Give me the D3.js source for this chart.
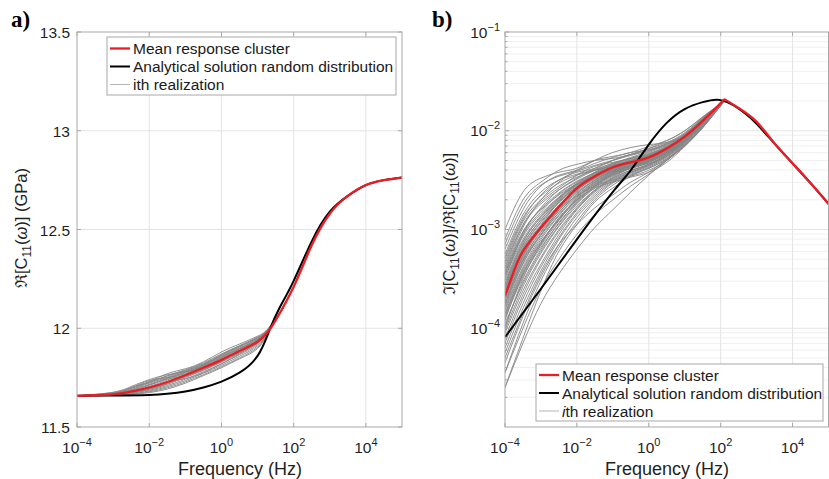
<!DOCTYPE html>
<html lang="en">
<head>
<meta charset="UTF-8">
<title>C11 frequency response - realizations</title>
<script src="https://d3js.org/d3.v7.min.js"></script>
<style>
  body { margin: 0; background: #fff; }
  svg { display: block; font-family: "Liberation Sans", Arial, Helvetica, sans-serif; }
  .grid { stroke: #e4e4e4; stroke-width: 1; }
  .minor { stroke: #f0f0f0; stroke-width: 1; }
  .frame { fill: none; stroke: #a8a8a8; stroke-width: 1; }
  .tick { stroke: #a8a8a8; stroke-width: 1; }
  .tick-label { font-size: 15.5px; fill: #1f1f1f; }
  .axis-title { font-size: 18px; fill: #1f1f1f; }
  .y-title { font-size: 16.5px; fill: #1f1f1f; }
  .gray { fill: none; stroke: #868686; stroke-width: 0.9; }
  .ana { fill: none; stroke: #000; stroke-width: 2; }
  .mean { fill: none; stroke: #ec1c24; stroke-width: 2.3; }
  .legend-box { fill: #fff; stroke: #a8a8a8; stroke-width: 1; }
  .legend-text { font-size: 15.5px; fill: #1a1a1a; }
  .panel-tag { font-family: "Liberation Serif", "Times New Roman", serif; font-weight: bold; font-size: 23px; }
</style>
</head>
<body>
<svg id="chart" width="829" height="479"></svg>
<script>
// ---------- data (a): real part of C11 in GPa, frequencies as log10(Hz) ----------
const meanLogFreqRe = [-4, -3, -2.5, -2, -1.5, -1, -0.5, 0, 0.5, 1, 1.3, 1.5, 2, 2.5, 3, 3.5, 4, 4.5, 5];
const meanRe = [11.658, 11.665, 11.680, 11.700, 11.728, 11.762, 11.800, 11.840, 11.885, 11.932, 11.985, 12.04, 12.21, 12.42, 12.58, 12.67, 12.725, 12.75, 12.763];

const anaLogFreqRe = [-4, -3, -2, -1.5, -1, -0.5, 0, 0.5, 1, 1.33, 1.6, 2, 2.5, 3, 3.5, 4, 4.5, 5];
const anaRe = [11.658, 11.659, 11.662, 11.668, 11.680, 11.700, 11.730, 11.775, 11.860, 11.990, 12.100, 12.240, 12.440, 12.590, 12.670, 12.725, 12.750, 12.763];

const realLogFreqRe = [-4, -3, -2.5, -2, -1.5, -1, -0.5, 0, 0.5, 1, 1.3, 1.7];
const realizationsRe = [
  [11.658, 11.675, 11.700, 11.730, 11.770, 11.795, 11.830, 11.880, 11.920, 11.960, 12.000, 12.10],
  [11.658, 11.672, 11.695, 11.725, 11.760, 11.790, 11.825, 11.870, 11.912, 11.955, 11.998, 12.10],
  [11.658, 11.670, 11.690, 11.722, 11.752, 11.785, 11.818, 11.862, 11.905, 11.950, 11.996, 12.10],
  [11.658, 11.668, 11.685, 11.712, 11.745, 11.780, 11.815, 11.858, 11.900, 11.945, 11.994, 12.10],
  [11.658, 11.667, 11.682, 11.705, 11.738, 11.775, 11.810, 11.852, 11.895, 11.940, 11.992, 12.10],
  [11.658, 11.666, 11.680, 11.700, 11.730, 11.768, 11.805, 11.845, 11.890, 11.935, 11.991, 12.10],
  [11.658, 11.664, 11.676, 11.695, 11.722, 11.758, 11.795, 11.835, 11.880, 11.928, 11.989, 12.10],
  [11.658, 11.663, 11.674, 11.690, 11.716, 11.750, 11.787, 11.828, 11.874, 11.922, 11.987, 12.10],
  [11.658, 11.662, 11.671, 11.686, 11.710, 11.742, 11.780, 11.820, 11.866, 11.916, 11.985, 12.10],
  [11.658, 11.661, 11.668, 11.682, 11.704, 11.735, 11.772, 11.812, 11.858, 11.910, 11.983, 12.10],
  [11.658, 11.661, 11.667, 11.678, 11.698, 11.728, 11.765, 11.805, 11.850, 11.903, 11.981, 12.10],
  [11.658, 11.660, 11.665, 11.674, 11.692, 11.722, 11.760, 11.800, 11.845, 11.897, 11.980, 12.10],
  [11.658, 11.676, 11.705, 11.740, 11.765, 11.780, 11.805, 11.850, 11.895, 11.945, 11.995, 12.10],
  [11.658, 11.670, 11.698, 11.735, 11.750, 11.770, 11.812, 11.865, 11.910, 11.952, 11.997, 12.10],
  [11.658, 11.665, 11.680, 11.712, 11.742, 11.760, 11.790, 11.835, 11.885, 11.938, 11.992, 12.10],
  [11.658, 11.662, 11.672, 11.695, 11.728, 11.745, 11.775, 11.820, 11.870, 11.925, 11.988, 12.10],
  [11.658, 11.669, 11.688, 11.716, 11.748, 11.778, 11.812, 11.855, 11.898, 11.942, 11.993, 12.10],
  [11.658, 11.665, 11.678, 11.698, 11.726, 11.762, 11.800, 11.840, 11.885, 11.932, 11.990, 12.10],
  [11.658, 11.673, 11.697, 11.728, 11.758, 11.786, 11.820, 11.866, 11.908, 11.952, 11.997, 12.10],
  [11.658, 11.663, 11.673, 11.692, 11.719, 11.754, 11.790, 11.831, 11.877, 11.925, 11.988, 12.10]
];

// ---------- data (b): loss ratio Im/Re, stored as log10 values ----------
const meanLogFreqLoss = [-4, -3.75, -3.5, -3, -2.5, -2, -1.5, -1, -0.5, 0, 0.5, 1, 1.5, 2, 2.15, 2.5, 3, 3.5, 4, 4.5, 5];
const meanLogLoss = [-3.67, -3.42, -3.22, -2.98, -2.77, -2.58, -2.46, -2.37, -2.32, -2.27, -2.18, -2.06, -1.90, -1.72, -1.69, -1.77, -1.91, -2.13, -2.33, -2.53, -2.74];

const anaLogFreqLoss = [-4, -3, -2, -1, -0.5, 0, 0.5, 1, 1.5, 1.9, 2.3, 2.7, 3, 3.5, 4, 4.5, 5];
const anaLogLoss = [-4.09, -3.60, -3.10, -2.62, -2.40, -2.14, -1.92, -1.78, -1.71, -1.685, -1.73, -1.83, -1.93, -2.13, -2.33, -2.53, -2.74];

const realLogFreqLoss = [-4, -3.5, -3, -2.5, -2, -1.5, -1, -0.5, 0, 0.5, 1, 1.5, 2.1];
const realizationsLogLoss = [
  [-3.00, -2.62, -2.48, -2.42, -2.38, -2.30, -2.26, -2.22, -2.16, -2.10, -2.00, -1.86, -1.70],
  [-3.10, -2.70, -2.52, -2.40, -2.34, -2.30, -2.28, -2.24, -2.18, -2.12, -2.02, -1.87, -1.70],
  [-3.20, -2.80, -2.56, -2.45, -2.40, -2.33, -2.27, -2.22, -2.19, -2.13, -2.03, -1.88, -1.70],
  [-3.30, -2.90, -2.65, -2.50, -2.42, -2.38, -2.30, -2.24, -2.20, -2.14, -2.04, -1.88, -1.70],
  [-3.35, -2.95, -2.72, -2.58, -2.45, -2.36, -2.32, -2.28, -2.22, -2.15, -2.05, -1.89, -1.70],
  [-3.45, -3.05, -2.82, -2.64, -2.52, -2.42, -2.34, -2.28, -2.24, -2.16, -2.05, -1.89, -1.70],
  [-3.55, -3.15, -2.90, -2.70, -2.55, -2.44, -2.36, -2.32, -2.26, -2.17, -2.06, -1.90, -1.70],
  [-3.60, -3.20, -2.95, -2.72, -2.56, -2.46, -2.40, -2.34, -2.28, -2.19, -2.07, -1.90, -1.70],
  [-3.70, -3.28, -3.00, -2.78, -2.60, -2.47, -2.38, -2.32, -2.27, -2.18, -2.06, -1.90, -1.70],
  [-3.75, -3.32, -3.05, -2.80, -2.62, -2.50, -2.40, -2.33, -2.28, -2.20, -2.08, -1.91, -1.70],
  [-3.80, -3.38, -3.08, -2.85, -2.66, -2.52, -2.42, -2.36, -2.30, -2.21, -2.08, -1.91, -1.70],
  [-3.85, -3.42, -3.12, -2.90, -2.68, -2.54, -2.44, -2.36, -2.30, -2.22, -2.09, -1.92, -1.70],
  [-3.90, -3.48, -3.18, -2.94, -2.72, -2.56, -2.44, -2.38, -2.32, -2.22, -2.10, -1.92, -1.70],
  [-3.95, -3.55, -3.22, -2.96, -2.74, -2.58, -2.47, -2.38, -2.33, -2.24, -2.10, -1.93, -1.70],
  [-4.05, -3.62, -3.28, -3.00, -2.78, -2.60, -2.48, -2.40, -2.34, -2.24, -2.11, -1.93, -1.70],
  [-4.15, -3.70, -3.35, -3.05, -2.80, -2.62, -2.50, -2.42, -2.35, -2.25, -2.12, -1.94, -1.70],
  [-4.25, -3.80, -3.42, -3.10, -2.85, -2.66, -2.52, -2.43, -2.36, -2.26, -2.12, -1.94, -1.70],
  [-4.35, -3.88, -3.48, -3.15, -2.88, -2.68, -2.53, -2.44, -2.37, -2.27, -2.13, -1.95, -1.70],
  [-4.45, -3.95, -3.52, -3.18, -2.92, -2.70, -2.55, -2.45, -2.38, -2.28, -2.14, -1.96, -1.70],
  [-4.60, -4.10, -3.62, -3.22, -2.95, -2.72, -2.58, -2.46, -2.38, -2.29, -2.15, -1.96, -1.70],
  [-3.40, -2.98, -2.70, -2.52, -2.40, -2.30, -2.22, -2.17, -2.14, -2.12, -2.05, -1.89, -1.70],
  [-3.65, -3.25, -3.00, -2.80, -2.66, -2.56, -2.50, -2.46, -2.40, -2.30, -2.15, -1.96, -1.70],
  [-4.00, -3.50, -3.15, -2.88, -2.70, -2.58, -2.52, -2.47, -2.42, -2.32, -2.16, -1.97, -1.70],
  [-3.50, -3.05, -2.78, -2.60, -2.48, -2.38, -2.30, -2.24, -2.18, -2.10, -2.00, -1.86, -1.70],
  [-4.60, -4.15, -3.75, -3.45, -3.20, -2.98, -2.80, -2.62, -2.45, -2.30, -2.15, -1.97, -1.70],
  [-4.45, -4.00, -3.60, -3.30, -3.05, -2.85, -2.70, -2.56, -2.44, -2.30, -2.14, -1.96, -1.70],
  [-4.30, -3.85, -3.45, -3.15, -2.95, -2.78, -2.65, -2.52, -2.42, -2.29, -2.14, -1.96, -1.70],
  [-3.58, -3.18, -2.92, -2.72, -2.57, -2.46, -2.38, -2.33, -2.28, -2.19, -2.07, -1.90, -1.70],
  [-3.62, -3.22, -2.96, -2.75, -2.59, -2.47, -2.39, -2.33, -2.27, -2.18, -2.06, -1.90, -1.70],
  [-3.72, -3.30, -3.02, -2.79, -2.61, -2.48, -2.39, -2.33, -2.27, -2.19, -2.07, -1.90, -1.70],
  [-3.48, -3.10, -2.86, -2.68, -2.54, -2.44, -2.36, -2.30, -2.25, -2.17, -2.06, -1.89, -1.70],
  [-3.82, -3.40, -3.10, -2.86, -2.67, -2.53, -2.43, -2.35, -2.29, -2.20, -2.08, -1.91, -1.70],
  [-3.38, -2.96, -2.74, -2.60, -2.49, -2.40, -2.33, -2.28, -2.23, -2.16, -2.05, -1.89, -1.70],
  [-3.25, -2.85, -2.62, -2.50, -2.44, -2.39, -2.33, -2.27, -2.21, -2.14, -2.04, -1.88, -1.70],
  [-3.92, -3.45, -3.14, -2.90, -2.71, -2.56, -2.45, -2.37, -2.31, -2.22, -2.09, -1.92, -1.70],
  [-4.10, -3.66, -3.30, -3.02, -2.79, -2.61, -2.49, -2.41, -2.34, -2.25, -2.11, -1.93, -1.70],
  [-3.15, -2.75, -2.55, -2.46, -2.41, -2.35, -2.30, -2.25, -2.20, -2.13, -2.03, -1.87, -1.70],
  [-3.68, -3.26, -2.98, -2.76, -2.58, -2.45, -2.37, -2.31, -2.26, -2.18, -2.06, -1.90, -1.70],
  [-4.20, -3.75, -3.38, -3.08, -2.83, -2.64, -2.51, -2.42, -2.35, -2.26, -2.12, -1.94, -1.70],
  [-3.52, -3.12, -2.88, -2.69, -2.54, -2.43, -2.35, -2.30, -2.25, -2.17, -2.05, -1.89, -1.70],
  [-3.64, -3.23, -2.97, -2.76, -2.59, -2.47, -2.38, -2.32, -2.27, -2.19, -2.07, -1.90, -1.70],
  [-3.78, -3.35, -3.06, -2.83, -2.64, -2.50, -2.41, -2.34, -2.28, -2.19, -2.07, -1.91, -1.70],
  [-3.57, -3.16, -2.90, -2.71, -2.57, -2.47, -2.40, -2.35, -2.30, -2.21, -2.08, -1.91, -1.70],
  [-3.42, -3.02, -2.80, -2.65, -2.54, -2.46, -2.39, -2.33, -2.27, -2.18, -2.06, -1.90, -1.70],
  [-3.86, -3.44, -3.13, -2.89, -2.69, -2.54, -2.43, -2.35, -2.29, -2.20, -2.08, -1.91, -1.70],
  [-3.33, -2.92, -2.70, -2.56, -2.47, -2.40, -2.35, -2.30, -2.25, -2.17, -2.06, -1.89, -1.70],
  [-3.74, -3.31, -3.03, -2.81, -2.63, -2.51, -2.42, -2.36, -2.30, -2.21, -2.08, -1.91, -1.70],
  [-3.98, -3.53, -3.20, -2.93, -2.73, -2.57, -2.46, -2.38, -2.32, -2.23, -2.10, -1.92, -1.70],
  [-3.60, -3.19, -2.93, -2.73, -2.58, -2.48, -2.41, -2.36, -2.31, -2.22, -2.09, -1.92, -1.70],
  [-3.46, -3.07, -2.84, -2.67, -2.53, -2.42, -2.34, -2.29, -2.24, -2.16, -2.05, -1.89, -1.70],
  [-3.69, -3.27, -2.99, -2.77, -2.60, -2.49, -2.41, -2.35, -2.29, -2.20, -2.07, -1.91, -1.70],
  [-3.88, -3.46, -3.16, -2.91, -2.70, -2.55, -2.45, -2.38, -2.32, -2.23, -2.10, -1.92, -1.70],
  [-3.28, -2.88, -2.66, -2.53, -2.45, -2.40, -2.36, -2.31, -2.26, -2.18, -2.06, -1.90, -1.70],
  [-3.55, -3.13, -2.87, -2.68, -2.55, -2.45, -2.37, -2.31, -2.26, -2.17, -2.06, -1.89, -1.70],
  [-4.02, -3.58, -3.24, -2.97, -2.76, -2.60, -2.48, -2.40, -2.34, -2.24, -2.11, -1.93, -1.70],
  [-3.76, -3.34, -3.05, -2.83, -2.65, -2.52, -2.43, -2.37, -2.31, -2.21, -2.08, -1.91, -1.70],
  [-3.44, -3.03, -2.79, -2.63, -2.51, -2.43, -2.37, -2.32, -2.27, -2.19, -2.07, -1.90, -1.70]
];

// ---------- ticks & legend ----------
const freqTickExp = [-4, -2, 0, 2, 4];
const reTicks = [11.5, 12, 12.5, 13, 13.5];
const lossTickExp = [-4, -3, -2, -1];
const legendLabels = ["Mean response cluster", "Analytical solution random distribution", "ith realization"];

const svg = d3.select("#chart");
const pow10 = e => Math.pow(10, e);
const line = (x, y) => d3.line().x(d => x(d[0])).y(d => y(d[1])).curve(d3.curveNatural);

function sup(sel, base, exp) {
    sel.append("tspan").text(base);
    sel.append("tspan").attr("dy", -7).attr("font-size", "11px").text(exp);
}

function legend(g, x0, y0, w, h, rows, italicI) {
    const lg = g.append("g");
    lg.append("rect").attr("class", "legend-box").attr("x", x0).attr("y", y0).attr("width", w).attr("height", h);
    const styles = [["#ec1c24", 2.3], ["#000", 2], ["#b4b4b4", 1]];
    legendLabels.forEach((lab, i) => {
        const yy = y0 + rows[i];
        lg.append("line").attr("x1", x0 + 3).attr("x2", x0 + 23).attr("y1", yy).attr("y2", yy)
            .attr("stroke", styles[i][0]).attr("stroke-width", styles[i][1]);
        const t = lg.append("text").attr("class", "legend-text").attr("x", x0 + 26).attr("y", yy + 5.5);
        if (i === 2 && italicI) {
            t.append("tspan").attr("font-style", "italic").text("i");
            t.append("tspan").text(lab.slice(1));
        } else {
            t.text(lab);
        }
    });
}

// ================= panel (a) =================
{
    const x = d3.scaleLog().domain([1e-4, 1e5]).range([77, 402]);
    const y = d3.scaleLinear().domain([11.5, 13.5]).range([427, 32]);
    const g = svg.append("g");
    g.append("clipPath").attr("id", "clipA").append("rect")
        .attr("x", 77).attr("y", 32).attr("width", 325).attr("height", 395);

    g.selectAll(".gx").data(freqTickExp.slice(1)).join("line").attr("class", "grid")
        .attr("x1", d => x(pow10(d))).attr("x2", d => x(pow10(d))).attr("y1", 32).attr("y2", 427);
    g.selectAll(".gy").data(reTicks.slice(1, -1)).join("line").attr("class", "grid")
        .attr("y1", d => y(d)).attr("y2", d => y(d)).attr("x1", 77).attr("x2", 402);

    const plot = g.append("g").attr("clip-path", "url(#clipA)");
    realizationsRe.forEach(r => {
        plot.append("path").attr("class", "gray")
            .attr("d", line(x, y)(realLogFreqRe.map((f, i) => [pow10(f), r[i]])));
    });
    plot.append("path").attr("class", "ana")
        .attr("d", line(x, y)(anaLogFreqRe.map((f, i) => [pow10(f), anaRe[i]])));
    plot.append("path").attr("class", "mean")
        .attr("d", line(x, y)(meanLogFreqRe.map((f, i) => [pow10(f), meanRe[i]])));

    g.append("rect").attr("class", "frame").attr("x", 77).attr("y", 32).attr("width", 325).attr("height", 395);
    freqTickExp.forEach(e => {
        const xx = x(pow10(e));
        g.append("line").attr("class", "tick").attr("x1", xx).attr("x2", xx).attr("y1", 427).attr("y2", 423);
        g.append("line").attr("class", "tick").attr("x1", xx).attr("x2", xx).attr("y1", 32).attr("y2", 36);
        const t = g.append("text").attr("class", "tick-label").attr("x", xx).attr("y", 453).attr("text-anchor", "middle");
        sup(t, "10", e < 0 ? "\u2212" + (-e) : String(e));
    });
    reTicks.forEach(v => {
        g.append("line").attr("class", "tick").attr("x1", 77).attr("x2", 81).attr("y1", y(v)).attr("y2", y(v));
        g.append("line").attr("class", "tick").attr("x1", 402).attr("x2", 398).attr("y1", y(v)).attr("y2", y(v));
        g.append("text").attr("class", "tick-label").attr("x", 70).attr("y", y(v) + 6)
            .attr("text-anchor", "end").text(d3.format("")(v));
    });

    g.append("text").attr("class", "axis-title").attr("x", 240).attr("y", 475)
        .attr("text-anchor", "middle").text("Frequency (Hz)");
    const yt = g.append("text").attr("class", "y-title").attr("text-anchor", "middle")
        .attr("transform", "translate(27,228) rotate(-90)");
    yt.append("tspan").text("\u211C[C");
    yt.append("tspan").attr("dy", 4).attr("font-size", "12px").text("11");
    yt.append("tspan").attr("dy", -4).text("(");
    yt.append("tspan").attr("font-style", "italic").text("\u03C9");
    yt.append("tspan").text(")] (GPa)");

    legend(g, 107, 37, 289, 58, [11.5, 29.5, 47.5], false);
    svg.append("text").attr("class", "panel-tag").attr("x", 11).attr("y", 27).text("a)");
}

// ================= panel (b) =================
{
    const x = d3.scaleLog().domain([1e-4, 1e5]).range([505, 828.5]);
    const y = d3.scaleLog().domain([1e-5, 1e-1]).range([427, 32]);
    const g = svg.append("g");
    g.append("clipPath").attr("id", "clipB").append("rect")
        .attr("x", 505).attr("y", 32).attr("width", 323.5).attr("height", 395);

    const minorVals = [];
    [-5, -4, -3, -2].forEach(e => d3.range(2, 10).forEach(k => minorVals.push(k * pow10(e))));
    g.selectAll(".my").data(minorVals).join("line").attr("class", "minor")
        .attr("y1", d => y(d)).attr("y2", d => y(d)).attr("x1", 505).attr("x2", 828.5);
    g.selectAll(".gx").data(freqTickExp.slice(1)).join("line").attr("class", "grid")
        .attr("x1", d => x(pow10(d))).attr("x2", d => x(pow10(d))).attr("y1", 32).attr("y2", 427);
    g.selectAll(".gy").data(lossTickExp.slice(0, -1)).join("line").attr("class", "grid")
        .attr("y1", d => y(pow10(d))).attr("y2", d => y(pow10(d))).attr("x1", 505).attr("x2", 828.5);

    const plot = g.append("g").attr("clip-path", "url(#clipB)");
    realizationsLogLoss.forEach(r => {
        plot.append("path").attr("class", "gray")
            .attr("d", line(x, y)(realLogFreqLoss.map((f, i) => [pow10(f), pow10(r[i])])));
    });
    plot.append("path").attr("class", "ana")
        .attr("d", line(x, y)(anaLogFreqLoss.map((f, i) => [pow10(f), pow10(anaLogLoss[i])])));
    plot.append("path").attr("class", "mean")
        .attr("d", line(x, y)(meanLogFreqLoss.map((f, i) => [pow10(f), pow10(meanLogLoss[i])])));

    g.append("rect").attr("class", "frame").attr("x", 505).attr("y", 32).attr("width", 323.5).attr("height", 395);
    freqTickExp.forEach(e => {
        const xx = x(pow10(e));
        g.append("line").attr("class", "tick").attr("x1", xx).attr("x2", xx).attr("y1", 427).attr("y2", 423);
        g.append("line").attr("class", "tick").attr("x1", xx).attr("x2", xx).attr("y1", 32).attr("y2", 36);
        const t = g.append("text").attr("class", "tick-label").attr("x", xx).attr("y", 453).attr("text-anchor", "middle");
        sup(t, "10", e < 0 ? "\u2212" + (-e) : String(e));
    });
    minorVals.forEach(v => {
        g.append("line").attr("class", "tick").attr("x1", 505).attr("x2", 507.5).attr("y1", y(v)).attr("y2", y(v));
    });
    lossTickExp.forEach(e => {
        const yy = y(pow10(e));
        g.append("line").attr("class", "tick").attr("x1", 505).attr("x2", 509).attr("y1", yy).attr("y2", yy);
        const t = g.append("text").attr("class", "tick-label").attr("x", 500).attr("y", yy + 5.5).attr("text-anchor", "end");
        sup(t, "10", "\u2212" + (-e));
    });

    g.append("text").attr("class", "axis-title").attr("x", 667).attr("y", 475)
        .attr("text-anchor", "middle").text("Frequency (Hz)");
    const yt = g.append("text").attr("class", "y-title").attr("text-anchor", "middle")
        .attr("transform", "translate(455,224) rotate(-90)");
    yt.append("tspan").text("\u2111[C");
    yt.append("tspan").attr("dy", 4).attr("font-size", "12px").text("11");
    yt.append("tspan").attr("dy", -4).text("(");
    yt.append("tspan").attr("font-style", "italic").text("\u03C9");
    yt.append("tspan").text(")]/\u211C[C");
    yt.append("tspan").attr("dy", 4).attr("font-size", "12px").text("11");
    yt.append("tspan").attr("dy", -4).text("(");
    yt.append("tspan").attr("font-style", "italic").text("\u03C9");
    yt.append("tspan").text(")]");

    legend(g, 536, 364, 287, 57, [11, 29, 47], true);
    svg.append("text").attr("class", "panel-tag").attr("x", 432).attr("y", 27).text("b)");
}
</script>
</body>
</html>
